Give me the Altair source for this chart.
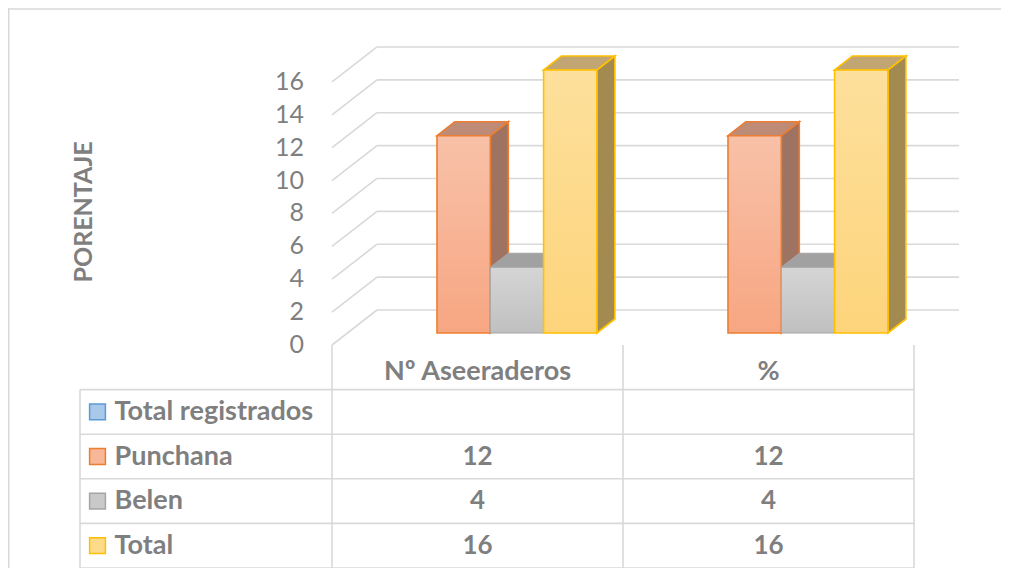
import altair as alt
import pandas as pd

# ---------------- data ----------------
categories = ["Nº Aseeraderos", "%"]
series = ["Total registrados", "Punchana", "Belen", "Total"]
total_registrados = [None, None]
punchana = [12, 12]
belen = [4, 4]
total = [16, 16]
y_ticks = [0, 2, 4, 6, 8, 10, 12, 14, 16]
y_title = "PORENTAJE"

series_values = [total_registrados, punchana, belen, total]

# ---------------- styles ----------------
TXT = "#7f7f7f"
GRID = "#d9d9d9"
FONT = "Lato"
swatch_fill = ["#a9c8ea", "#f8b796", "#c9c9c9", "#fedb8a"]
swatch_stroke = ["#5b9bd5", "#ed7d31", "#a5a5a5", "#ffc000"]
front_top = [None, "#f8c1a8", "#d5d5d5", "#fde09c"]
front_bot = [None, "#f7a682", "#c0c0c0", "#fdd47b"]
top_col = [None, "#bd8b76", "#a1a1a1", "#c1a673"]
side_col = [None, "#9e7361", "#8f8f8f", "#a38a51"]
edge_col = [None, "#ed7d31", "#a5a5a5", "#ffc000"]
edge_w = [0, 1.6, 1.0, 1.6]

# ---------------- geometry (scale set-up) ----------------
W, H = 993, 560
PX_U = 291.0   # pixels per category
U0 = 324.0     # pixel of the first category's left edge
PX_V = 16.44   # pixels per value unit
V0 = 337.0     # pixel of value 0 on the front plane
X_MIN = -U0 / PX_U
X_MAX = (W - U0) / PX_U
Y_MIN = -(H - V0) / PX_V
Y_MAX = V0 / PX_V
DX = 45 / PX_U          # depth offset (x) of the whole floor
DY = 35 / PX_V          # depth offset (y) of the whole floor
D_FRONT = 12 / 35       # bars front depth fraction
D_BACK = 26 / 35        # bars back depth fraction
SLOT = 53.3 / PX_U      # bar width in category units
G0 = 0.1246             # group start inside a category
ROW_H = 44.6 / PX_V     # table row height in value units
TBL_LEFT = (80 - 332) / PX_U
SW_X = (97.5 - 332) / PX_U
LBL_X = (114.6 - 332) / PX_U
TICK_X = (304 - 332) / PX_U
TITLE_X = (84 - 332) / PX_U
TITLE_V = (345 - 212) / PX_V
HEAD_R = 0.6

ncat = len(categories)
nrows = len(series) + 1

xs = alt.Scale(domain=[X_MIN, X_MAX], nice=False, zero=False)
ys = alt.Scale(domain=[Y_MIN, Y_MAX], nice=False, zero=False)


def X(f):
    return alt.X(f, type="quantitative", scale=xs, axis=None)


def Y(f):
    return alt.Y(f, type="quantitative", scale=ys, axis=None)


def X2(f):
    return alt.X2(f)


def Y2(f):
    return alt.Y2(f)


layers = []

# frame (top and left)
frame_top = pd.DataFrame({"x": [X_MIN], "x2": [X_MAX], "y": [Y_MAX - 1 / PX_V]})
frame_left = pd.DataFrame({"x": [X_MIN + 0.75 / PX_U], "y": [Y_MIN], "y2": [Y_MAX]})
layers.append(alt.Chart(frame_top).mark_rule(color=GRID, strokeWidth=1.5).encode(
    x=X("x"), x2=X2("x2"), y=Y("y")))
layers.append(alt.Chart(frame_left).mark_rule(color=GRID, strokeWidth=1.5).encode(
    x=X("x"), y=Y("y"), y2=Y2("y2")))

# back wall gridlines
back = pd.DataFrame({"x": [DX] * len(y_ticks), "x2": [ncat + DX] * len(y_ticks),
                     "y": [t + DY for t in y_ticks]})
layers.append(alt.Chart(back).mark_rule(color=GRID, strokeWidth=1.6).encode(
    x=X("x"), x2=X2("x2"), y=Y("y")))

# side wall gridlines
side = pd.DataFrame({"x": [0.0] * len(y_ticks), "x2": [DX] * len(y_ticks),
                     "y": list(y_ticks), "y2": [t + DY for t in y_ticks]})
layers.append(alt.Chart(side).mark_rule(color=GRID, strokeWidth=1.6).encode(
    x=X("x"), x2=X2("x2"), y=Y("y"), y2=Y2("y2")))

# tick labels
ticks_df = pd.DataFrame({"x": [TICK_X] * len(y_ticks), "y": list(y_ticks),
                         "t": [str(t) for t in y_ticks]})
layers.append(alt.Chart(ticks_df).mark_text(font=FONT, fontSize=25, color=TXT,
                                            align="right", baseline="middle").encode(
    x=X("x"), y=Y("y"), text="t:N"))

# axis title
title_df = pd.DataFrame({"x": [TITLE_X], "y": [TITLE_V], "t": [y_title]})
layers.append(alt.Chart(title_df).mark_text(font=FONT, fontSize=25, fontWeight="bold",
                                            color=TXT, angle=270, align="center",
                                            baseline="middle").encode(
    x=X("x"), y=Y("y"), text="t:N"))

# bars
ddx = (D_BACK - D_FRONT) * DX
ddy = (D_BACK - D_FRONT) * DY
for si, s in enumerate(series):
    vals = series_values[si]
    fronts, sides, tops = [], [], []
    for ci, v in enumerate(vals):
        if v is None:
            continue
        xl = ci + G0 + si * SLOT + D_FRONT * DX
        xr = xl + SLOT
        yb = D_FRONT * DY
        yt = yb + v
        key = f"{s}-{ci}"
        fronts.append({"x": xl, "x2": xr, "y": yb, "y2": yt})
        sides.append({"k": key, "x": xr, "y": yt, "y2": yb})
        sides.append({"k": key, "x": xr + ddx, "y": yt + ddy, "y2": yb + ddy})
        tops.append({"k": key, "y": yt, "x": xl, "x2": xr})
        tops.append({"k": key, "y": yt + ddy, "x": xl + ddx, "x2": xr + ddx})
    if not fronts:
        continue
    layers.append(alt.Chart(pd.DataFrame(sides)).mark_area(
        orient="vertical", fill=side_col[si], stroke=edge_col[si],
        strokeWidth=edge_w[si], opacity=1).encode(
        x=X("x"), y=Y("y"), y2=Y2("y2"), detail="k:N"))
    layers.append(alt.Chart(pd.DataFrame(tops)).mark_area(
        orient="horizontal", fill=top_col[si], stroke=edge_col[si],
        strokeWidth=edge_w[si], opacity=1).encode(
        y=Y("y"), x=X("x"), x2=X2("x2"), detail="k:N"))
    grad = alt.LinearGradient(
        gradient="linear",
        stops=[alt.GradientStop(color=front_top[si], offset=0),
               alt.GradientStop(color=front_bot[si], offset=1)],
        x1=0, x2=0, y1=0, y2=1)
    layers.append(alt.Chart(pd.DataFrame(fronts)).mark_rect(
        fill=grad, stroke=edge_col[si], strokeWidth=edge_w[si]).encode(
        x=X("x"), x2=X2("x2"), y=Y("y"), y2=Y2("y2")))

# table lines
hl = pd.DataFrame({"x": [TBL_LEFT] * (nrows), "x2": [float(ncat)] * nrows,
                   "y": [-r * ROW_H for r in range(1, nrows + 1)]})
layers.append(alt.Chart(hl).mark_rule(color=GRID, strokeWidth=1.6).encode(
    x=X("x"), x2=X2("x2"), y=Y("y")))
vx = [TBL_LEFT] + [float(c) for c in range(ncat + 1)]
vy = [-ROW_H] + [0.0] * (ncat + 1)
vl = pd.DataFrame({"x": vx, "y": vy, "y2": [-nrows * ROW_H] * len(vx)})
layers.append(alt.Chart(vl).mark_rule(color=GRID, strokeWidth=1.6).encode(
    x=X("x"), y=Y("y"), y2=Y2("y2")))

# header text
head = pd.DataFrame({"x": [c + 0.5 for c in range(ncat)],
                     "y": [-HEAD_R * ROW_H] * ncat, "t": categories})
layers.append(alt.Chart(head).mark_text(font=FONT, fontSize=27, fontWeight="bold",
                                        color=TXT, align="center", baseline="middle").encode(
    x=X("x"), y=Y("y"), text="t:N"))

# row labels + swatches
rows = pd.DataFrame({"s": series,
                     "y": [-(1 + i + 0.5) * ROW_H for i in range(len(series))],
                     "xs": [SW_X] * len(series), "xl": [LBL_X] * len(series)})
layers.append(alt.Chart(rows).mark_square(size=250, strokeWidth=1.5, opacity=1).encode(
    x=X("xs"), y=Y("y"),
    fill=alt.Fill("s:N", scale=alt.Scale(domain=series, range=swatch_fill), legend=None),
    stroke=alt.Stroke("s:N", scale=alt.Scale(domain=series, range=swatch_stroke), legend=None)))
layers.append(alt.Chart(rows).mark_text(font=FONT, fontSize=27, fontWeight="bold",
                                        color=TXT, align="left", baseline="middle").encode(
    x=X("xl"), y=Y("y"), text="s:N"))

# cell values
cells = []
for si, s in enumerate(series):
    for ci, v in enumerate(series_values[si]):
        if v is None:
            continue
        cells.append({"x": ci + 0.5, "y": -(1 + si + 0.5) * ROW_H, "t": str(v)})
layers.append(alt.Chart(pd.DataFrame(cells)).mark_text(
    font=FONT, fontSize=26, fontWeight="bold", color=TXT, align="center",
    baseline="middle").encode(x=X("x"), y=Y("y"), text="t:N"))

chart = alt.layer(*layers).properties(
    width=W, height=H, autosize=alt.AutoSizeParams(type="none"), padding=0
).configure_view(strokeWidth=0)

chart.save("out.html", embed_options={"renderer": "svg", "actions": False})
